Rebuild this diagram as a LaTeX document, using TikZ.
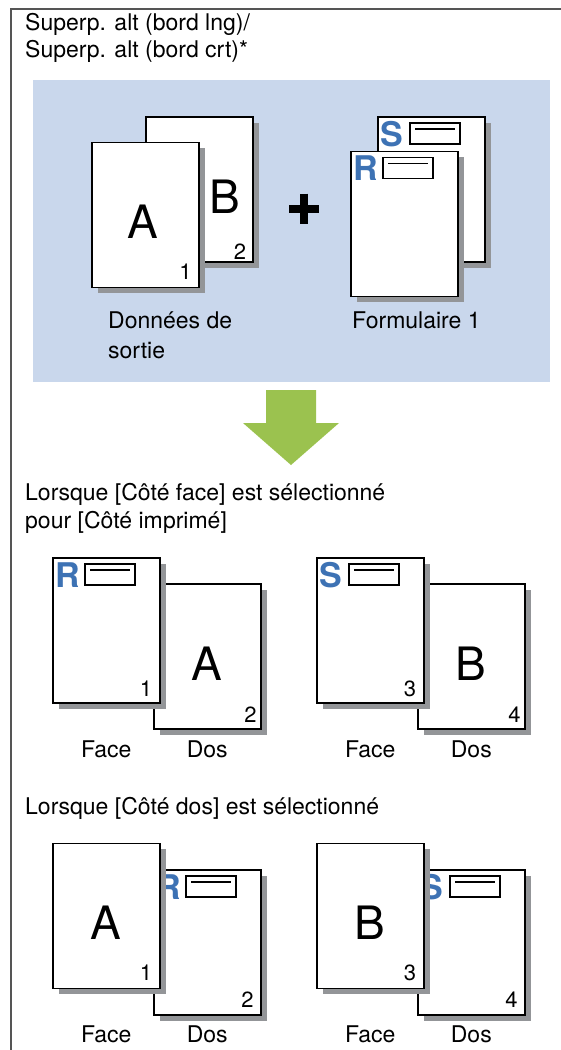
\documentclass[tikz,border=0pt]{standalone}
\usepackage{fontspec}
\setmainfont{TeX Gyre Heros}
\usetikzlibrary{calc, shadows}
\definecolor{panelblue}{HTML}{C9D7EC}
\definecolor{formblue}{HTML}{3D72B4}
\definecolor{arrowgreen}{HTML}{9BC24F}
\definecolor{shadowgray}{HTML}{939598}
\definecolor{framegray}{HTML}{555555}

\begin{document}
\begin{tikzpicture}[
    x=1pt, y=-1pt,
    sheet/.style={
        draw=black,
        line width=1.6pt,
        fill=white,
        minimum width=107pt,
        minimum height=145pt,
        inner sep=0pt,
        anchor=north west,
        drop shadow={shadow xshift=6pt, shadow yshift=-6pt, fill=shadowgray, opacity=1}
    },
    bigletter/.style={
        font=\fontsize{46}{46}\selectfont,
        inner sep=0pt
    },
    pagenum/.style={
        font=\fontsize{22}{22}\selectfont,
        inner sep=0pt
    },
    formletter/.style={
        font=\fontsize{34}{34}\selectfont\bfseries,
        text=formblue,
        inner sep=0pt,
        anchor=base west
    },
    formbox/.style={
        draw=black,
        line width=1.6pt,
        fill=white,
        minimum width=50pt,
        minimum height=21pt,
        inner sep=0pt,
        anchor=north west
    },
    formline/.style={
        line width=1.6pt
    },
    caption/.style={
        font=\fontsize{23}{23}\selectfont,
        inner sep=0pt,
        anchor=base west
    },
    sidelabel/.style={
        font=\fontsize{23}{23}\selectfont,
        inner sep=0pt,
        anchor=base
    },
    frameline/.style={
        draw=framegray,
        line width=2pt
    },
    plusbar/.style={
        line width=8pt
    }
]
\useasboundingbox (0,0) rectangle (561,1050);

% ------------------------------------------------
% Frame and title
% ------------------------------------------------
\draw[frameline] (561,9) -- (11,9) -- (11,1050);

\node[caption] (title1) at (25,30) {Superp. alt (bord lng)/};
\node[caption] (title2) at (25,57) {Superp. alt (bord crt)*};

% ------------------------------------------------
% Input panel
% ------------------------------------------------
\fill[panelblue] (33,80) rectangle (550,382);

\node[sheet] (dataB) at (145,116) {};
\node[bigletter] (dataBl) at ($(dataB.center)+(26,7)$) {B};
\node[pagenum] (dataBn) at ($(dataB.south east)+(-13.5,-11)$) {2};

\node[sheet] (dataA) at (91,141.5) {};
\node[bigletter] (dataAl) at ($(dataA.center)+(-2,7)$) {A};
\node[pagenum] (dataAn) at ($(dataA.south east)+(-14,-16.5)$) {1};

\node[caption] (data1) at (108,328) {Données de};
\node[caption] (data2) at (108,358) {sortie};

\draw[plusbar] (289,208.5) -- (319,208.5);
\draw[plusbar] (304,193.5) -- (304,223.5);

\node[sheet] (formS) at (377,116) {};
\node[formletter] (formSl) at ($(formS.north west)+(3,30)$) {S};
\node[formbox] (formSb) at ($(formS.north west)+(32,6)$) {};
\draw[formline] ($(formSb.north west)+(6,7)$) -- ($(formSb.north east)+(-6,7)$);

\node[sheet] (formR) at (350,150.5) {};
\node[formletter] (formRl) at ($(formR.north west)+(3,30)$) {R};
\node[formbox] (formRb) at ($(formR.north west)+(32,6)$) {};
\draw[formline] ($(formRb.north west)+(6,7)$) -- ($(formRb.north east)+(-6,7)$);

\node[caption] (form1) at (352,328) {Formulaire 1};

% ------------------------------------------------
% Green arrow
% ------------------------------------------------
\fill[arrowgreen] (266,390) -- (316,390) -- (316,423) -- (339,423)
    -- (291,465) -- (243,423) -- (266,423) -- cycle;

% ------------------------------------------------
% Face side selected
% ------------------------------------------------
\node[caption] (face1) at (25,500) {Lorsque [Côté face] est sélectionné};
\node[caption] (face2) at (25,528) {pour [Côté imprimé]};

\foreach \fx/\fl/\dl/\fn/\dn/\nm in {52/R/A/1/2/a, 316/S/B/3/4/b}{
  \node[sheet] (fdos\nm) at (\fx+101,583) {};
  \node[bigletter] (fdos\nm l) at ($(fdos\nm.center)+(0,7)$) {\dl};
  \node[pagenum] (fdos\nm n) at ($(fdos\nm.south east)+(-11,-15)$) {\dn};

  \node[sheet] (fface\nm) at (\fx,557) {};
  \node[formletter] (fface\nm l) at ($(fface\nm.north west)+(3,30)$) {\fl};
  \node[formbox] (fface\nm b) at ($(fface\nm.north west)+(32,6)$) {};
  \draw[formline] ($(fface\nm b.north west)+(6,7)$) -- ($(fface\nm b.north east)+(-6,7)$);
  \node[pagenum] (fface\nm n) at ($(fface\nm.south east)+(-14.5,-15)$) {\fn};

  \node[sidelabel] (fface\nm t) at (fface\nm.south |- 0,757) {Face};
  \node[sidelabel] (fdos\nm t) at (fdos\nm.south |- 0,757) {Dos};
}

% ------------------------------------------------
% Back side selected
% ------------------------------------------------
\node[caption] (dos1) at (25,814) {Lorsque [Côté dos] est sélectionné};

\foreach \fx/\fl/\dl/\fn/\dn/\nm in {52/A/R/1/2/a, 316/B/S/3/4/b}{
  \node[sheet] (bdos\nm) at (\fx+101,869) {};
  \node[formletter] (bdos\nm l) at ($(bdos\nm.north west)+(3,30)$) {\dl};
  \node[formbox] (bdos\nm b) at ($(bdos\nm.north west)+(32,6)$) {};
  \draw[formline] ($(bdos\nm b.north west)+(6,7)$) -- ($(bdos\nm b.north east)+(-6,7)$);
  \node[pagenum] (bdos\nm n) at ($(bdos\nm.south east)+(-14,-15.5)$) {\dn};

  \node[sheet] (bface\nm) at (\fx,842.5) {};
  \node[bigletter] (bface\nm l) at ($(bface\nm.center)+(0,7)$) {\fl};
  \node[pagenum] (bface\nm n) at ($(bface\nm.south east)+(-14.5,-16)$) {\fn};

  \node[sidelabel] (bface\nm t) at (bface\nm.south |- 0,1042) {Face};
  \node[sidelabel] (bdos\nm t) at (bdos\nm.south |- 0,1042) {Dos};
}

\end{tikzpicture}
\end{document}
